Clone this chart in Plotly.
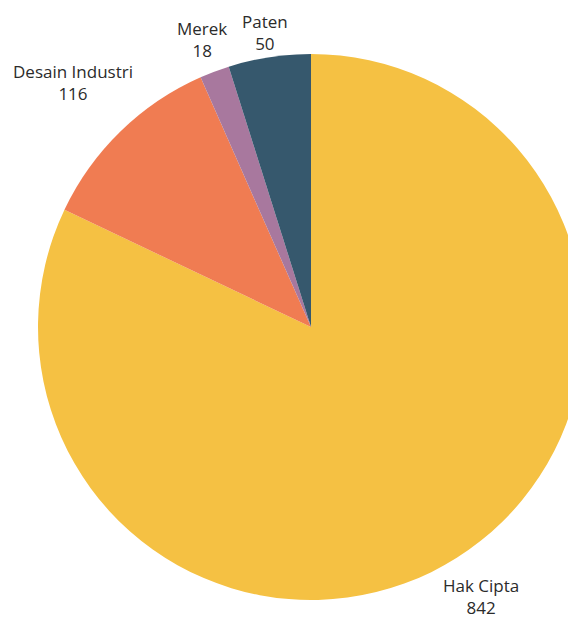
import math
import plotly.graph_objects as go

labels = ["Hak Cipta", "Desain Industri", "Merek", "Paten"]
values = [842, 116, 18, 50]
colors = ["#F5C143", "#F07C52", "#A8789E", "#36586D"]

W, H = 576, 622
dom_x = [0.0521, 1.0]
dom_y = [0.0482, 0.9260]

fig = go.Figure(
    go.Pie(
        labels=labels,
        values=values,
        sort=False,
        direction="clockwise",
        rotation=0,
        marker=dict(colors=colors, line=dict(width=0)),
        textinfo="none",
        showlegend=False,
        domain=dict(x=dom_x, y=dom_y),
        hoverinfo="label+value",
    )
)

# pie geometry in pixels (margins are zero)
pw = W * (dom_x[1] - dom_x[0])
ph = H * (dom_y[1] - dom_y[0])
R = min(pw, ph) / 2
cx = W * (dom_x[0] + dom_x[1]) / 2
cy = H * (1 - (dom_y[0] + dom_y[1]) / 2)

total = sum(values)
cum = 0
annotations = []
for lab, val in zip(labels, values):
    mid = (cum + val / 2) / total * 2 * math.pi
    cum += val
    dx, dy = math.sin(mid), -math.cos(mid)
    w = max(len(lab), len(str(val))) * 8.5
    h = 37
    r = R + 10 + abs(dx) * w / 2 + abs(dy) * h / 2
    px, py = cx + dx * r, cy + dy * r
    # keep each label inside the figure
    py = min(max(py, 24), H - 24)
    annotations.append(
        dict(
            x=px / W,
            y=1 - py / H,
            xref="paper",
            yref="paper",
            xanchor="center",
            yanchor="middle",
            showarrow=False,
            text=f"{lab}<br>{val}",
            align="center",
            font=dict(family="Open Sans", size=17, color="#2b2b2b"),
        )
    )

fig.update_layout(
    width=W,
    height=H,
    margin=dict(l=0, r=0, t=0, b=0),
    paper_bgcolor="white",
    plot_bgcolor="white",
    annotations=annotations,
)

fig.write_html("out.html")
